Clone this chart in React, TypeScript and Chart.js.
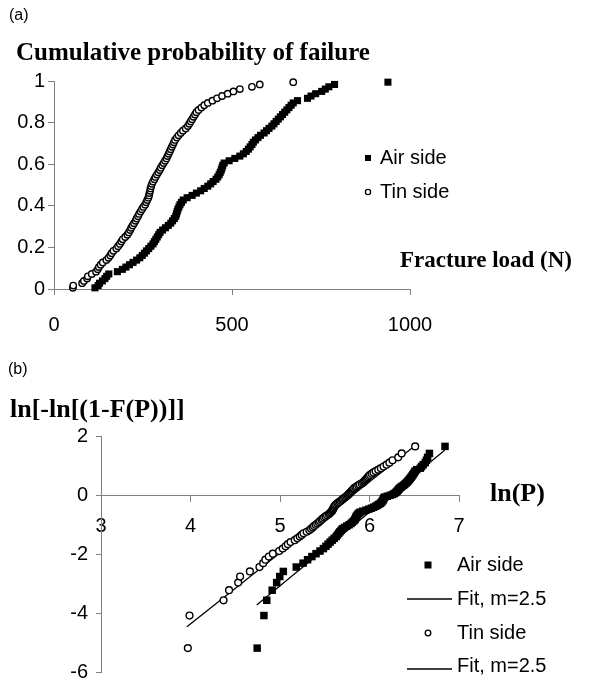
import React, { useEffect, useRef } from 'react';
import { Chart, registerables } from 'chart.js';

Chart.register(...registerables);

// Fracture loads (N), sorted ascending, one per specimen
const airLoad = [
  115, 124, 128, 136, 143, 148, 154, 178, 192, 202,
  212, 222, 232, 241, 248, 254, 260, 266, 272, 278,
  282, 286, 290, 294, 298, 305, 313, 321, 328, 333,
  338, 342, 344, 346, 348, 351, 354, 358, 363, 374,
  388, 400, 412, 422, 432, 440, 447, 455, 460, 464,
  467, 470, 472, 474, 478, 492, 508, 522, 532, 540,
  546, 551, 556, 560, 566, 573, 580, 590, 597, 604,
  612, 618, 624, 630, 636, 642, 648, 654, 660, 666,
  672, 684, 712, 722, 735, 752, 762, 772, 788, 938,
];
const tinLoad = [
  53, 54, 79, 84, 93, 95, 106, 118, 123, 126,
  131, 137, 147, 153, 158, 162, 167, 175, 180, 185,
  189, 193, 200, 206, 210, 214, 217, 221, 225, 229,
  232, 236, 239, 243, 247, 251, 256, 259, 262, 265,
  267, 268, 270, 271, 273, 275, 278, 282, 285, 289,
  293, 297, 300, 304, 308, 312, 316, 319, 322, 325,
  328, 331, 334, 337, 340, 345, 350, 356, 362, 370,
  376, 380, 384, 388, 392, 396, 400, 406, 414, 422,
  432, 445, 458, 472, 488, 504, 522, 556, 578, 672,
];

// Weibull fit lines in panel (b): end points (ln P, ln[-ln(1-F)])
const airFitLnP = [4.74, 6.84];
const airFitLnLn = [-3.73, 1.52];
const tinFitLnP = [3.96, 6.5];
const tinFitLnLn = [-4.47, 1.65];

// Axis ticks
const loadTicks = [0, 500, 1000];
const probTicks = [0, 0.2, 0.4, 0.6, 0.8, 1];
const lnPTicks = [3, 4, 5, 6, 7];
const lnLnTicks = [-6, -4, -2, 0, 2];

// Labels
const panelALabel = '(a)';
const panelBLabel = '(b)';
const titleA = 'Cumulative probability of failure';
const xTitleA = 'Fracture load (N)';
const titleB = 'ln[-ln[(1-F(P))]]';
const xTitleB = 'ln(P)';
const legendA = ['Air side', 'Tin side'];
const legendB = ['Air side', 'Fit, m=2.5', 'Tin side', 'Fit, m=2.5'];

const SANS = '"Liberation Sans", Arial, sans-serif';
const SERIF = '"Liberation Serif", "Times New Roman", serif';
const AXIS = '#808080';

// empirical cumulative probability (Hazen plotting position) of sorted loads
const cdfPoints = (loads: number[]) =>
  loads.map((p, i) => ({ x: p, y: (i + 0.5) / loads.length }));
const weibullPoints = (loads: number[]) =>
  cdfPoints(loads).map((d) => ({ x: Math.log(d.x), y: Math.log(-Math.log(1 - d.y)) }));
const pairs = (xs: number[], ys: number[]) => xs.map((x, i) => ({ x, y: ys[i] }));
const plain = (v: any) => String(Number(Number(v).toFixed(1)));

type Item =
  | { kind: 'text'; text: string; x: number; y: number; font: string }
  | { kind: 'square'; x: number; y: number; s: number }
  | { kind: 'circle'; x: number; y: number; r: number }
  | { kind: 'line'; x1: number; x2: number; y: number };

function decoPlugin(items: Item[]) {
  return {
    id: 'deco',
    afterDraw(chart: any) {
      const ctx = chart.ctx as CanvasRenderingContext2D;
      ctx.save();
      for (const it of items) {
        if (it.kind === 'text') {
          ctx.font = it.font;
          ctx.fillStyle = '#000';
          ctx.textAlign = 'left';
          ctx.textBaseline = 'alphabetic';
          ctx.fillText(it.text, it.x, it.y);
        } else if (it.kind === 'square') {
          ctx.fillStyle = '#000';
          ctx.fillRect(it.x - it.s / 2, it.y - it.s / 2, it.s, it.s);
        } else if (it.kind === 'circle') {
          ctx.beginPath();
          ctx.arc(it.x, it.y, it.r, 0, Math.PI * 2);
          ctx.fillStyle = '#fff';
          ctx.fill();
          ctx.lineWidth = 1.3;
          ctx.strokeStyle = '#000';
          ctx.stroke();
        } else if (it.kind === 'line') {
          ctx.beginPath();
          ctx.moveTo(it.x1, it.y);
          ctx.lineTo(it.x2, it.y);
          ctx.lineWidth = 1.3;
          ctx.strokeStyle = '#000';
          ctx.stroke();
        }
      }
      ctx.restore();
    },
  };
}

const tickFont = { family: SANS, size: 20 };

const OFF_B = 330;

export default function App() {
  const refA = useRef<HTMLCanvasElement>(null);
  const refB = useRef<HTMLCanvasElement>(null);

  useEffect(() => {
    const itemsA: Item[] = [
      { kind: 'text', text: panelALabel, x: 9, y: 20, font: `16px ${SANS}` },
      { kind: 'text', text: titleA, x: 16, y: 60, font: `bold 25px ${SERIF}` },
      { kind: 'text', text: xTitleA, x: 400, y: 267, font: `bold 23px ${SERIF}` },
      { kind: 'square', x: 368, y: 158, s: 6 },
      { kind: 'text', text: legendA[0], x: 380, y: 164, font: `20px ${SANS}` },
      { kind: 'circle', x: 368, y: 192, r: 2.6 },
      { kind: 'text', text: legendA[1], x: 380, y: 198, font: `20px ${SANS}` },
    ];
    const chartA = new Chart(refA.current!, {
      type: 'scatter',
      data: {
        datasets: [
          {
            label: legendA[0],
            data: cdfPoints(airLoad),
            pointStyle: 'rect',
            pointRadius: 5,
            backgroundColor: '#000',
            borderColor: '#000',
            borderWidth: 0,
            clip: false,
          },
          {
            label: legendA[1],
            data: cdfPoints(tinLoad),
            pointStyle: 'circle',
            pointRadius: 3.2,
            backgroundColor: '#fff',
            borderColor: '#000',
            borderWidth: 1.4,
            clip: false,
          },
        ],
      },
      options: {
        responsive: false,
        animation: false,
        layout: { padding: { left: 0, top: 81, right: 182, bottom: 0 } },
        plugins: { legend: { display: false }, tooltip: { enabled: false } },
        scales: {
          x: {
            type: 'linear',
            min: loadTicks[0],
            max: loadTicks[loadTicks.length - 1],
            ticks: { stepSize: loadTicks[1] - loadTicks[0], color: '#000', font: tickFont, padding: 18, callback: plain },
            grid: { drawOnChartArea: false, drawTicks: true, tickLength: 6, color: AXIS },
            border: { display: true, color: AXIS, width: 1 },
            afterFit: (s: any) => {
              s.height = 51;
              s.paddingLeft = 0;
              s.paddingRight = 0;
            },
          },
          y: {
            type: 'linear',
            min: probTicks[0],
            max: probTicks[probTicks.length - 1],
            ticks: { stepSize: probTicks[1] - probTicks[0], color: '#000', font: tickFont, padding: 3, callback: plain },
            grid: { drawOnChartArea: false, drawTicks: true, tickLength: 6, color: AXIS },
            border: { display: true, color: AXIS, width: 1 },
            afterFit: (s: any) => {
              s.width = 54;
              s.paddingTop = 0;
              s.paddingBottom = 0;
            },
          },
        },
      },
      plugins: [decoPlugin(itemsA)],
    } as any);

    const o = OFF_B;
    const itemsB: Item[] = [
      { kind: 'text', text: panelBLabel, x: 8, y: 374 - o, font: `16px ${SANS}` },
      { kind: 'text', text: titleB, x: 10, y: 417 - o, font: `bold 26px ${SERIF}` },
      { kind: 'text', text: xTitleB, x: 490, y: 501 - o, font: `bold 26px ${SERIF}` },
      { kind: 'square', x: 428, y: 565 - o, s: 7 },
      { kind: 'text', text: legendB[0], x: 457, y: 571 - o, font: `20px ${SANS}` },
      { kind: 'line', x1: 407, x2: 452, y: 599 - o },
      { kind: 'text', text: legendB[1], x: 457, y: 605 - o, font: `20px ${SANS}` },
      { kind: 'circle', x: 428, y: 633 - o, r: 2.8 },
      { kind: 'text', text: legendB[2], x: 457, y: 639 - o, font: `20px ${SANS}` },
      { kind: 'line', x1: 407, x2: 452, y: 669 - o },
      { kind: 'text', text: legendB[3], x: 457, y: 672 - o, font: `20px ${SANS}` },
    ];
    const chartB = new Chart(refB.current!, {
      type: 'scatter',
      data: {
        datasets: [
          {
            label: legendB[0],
            data: weibullPoints(airLoad),
            pointStyle: 'rect',
            pointRadius: 5.3,
            backgroundColor: '#000',
            borderColor: '#000',
            borderWidth: 0,
            clip: false,
          },
          {
            label: legendB[1],
            data: pairs(airFitLnP, airFitLnLn),
            showLine: true,
            pointRadius: 0,
            borderColor: '#000',
            borderWidth: 1.3,
          },
          {
            label: legendB[2],
            data: weibullPoints(tinLoad),
            pointStyle: 'circle',
            pointRadius: 3.4,
            backgroundColor: '#fff',
            borderColor: '#000',
            borderWidth: 1.4,
            clip: false,
          },
          {
            label: legendB[3],
            data: pairs(tinFitLnP, tinFitLnLn),
            showLine: true,
            pointRadius: 0,
            borderColor: '#000',
            borderWidth: 1.3,
          },
        ],
      },
      options: {
        responsive: false,
        animation: false,
        layout: { padding: { left: 0, top: 436 - o, right: 592 - 459, bottom: 680 - 672 } },
        plugins: { legend: { display: false }, tooltip: { enabled: false } },
        scales: {
          x: {
            type: 'linear',
            position: { y: 0 },
            min: lnPTicks[0],
            max: lnPTicks[lnPTicks.length - 1],
            ticks: { stepSize: 1, color: '#000', font: tickFont, padding: 13, callback: plain },
            grid: { drawOnChartArea: false, drawTicks: true, tickLength: 6, color: AXIS },
            border: { display: true, color: AXIS, width: 1 },
          },
          y: {
            type: 'linear',
            position: 'left',
            min: lnLnTicks[0],
            max: lnLnTicks[lnLnTicks.length - 1],
            ticks: { stepSize: lnLnTicks[1] - lnLnTicks[0], color: '#000', font: tickFont, padding: 8, callback: plain },
            grid: { drawOnChartArea: false, drawTicks: true, tickLength: 5, color: AXIS },
            border: { display: true, color: AXIS, width: 1 },
            afterFit: (s: any) => {
              s.width = 101;
              s.paddingTop = 0;
              s.paddingBottom = 0;
            },
          },
        },
      },
      plugins: [decoPlugin(itemsB)],
    } as any);

    return () => {
      chartA.destroy();
      chartB.destroy();
    };
  }, []);

  return (
    <div style={{ position: 'fixed', left: 0, top: 0, width: 592, height: 680, background: '#fff', overflow: 'hidden' }}>
      <canvas ref={refA} width={592} height={340} style={{ position: 'absolute', left: 0, top: 0 }} />
      <canvas ref={refB} width={592} height={350} style={{ position: 'absolute', left: 0, top: OFF_B }} />
    </div>
  );
}
